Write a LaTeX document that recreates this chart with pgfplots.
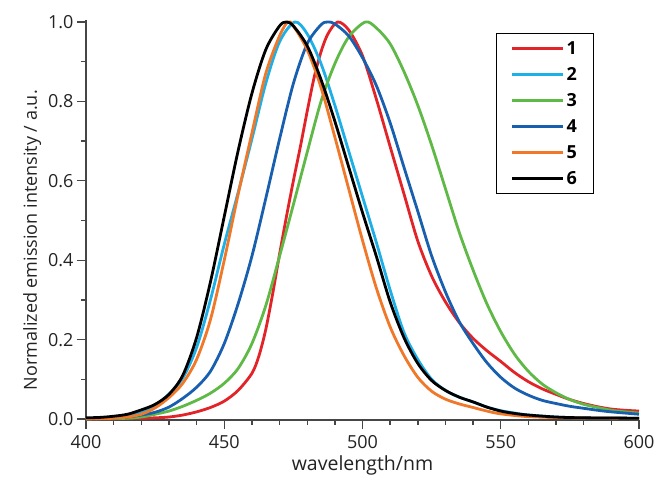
\documentclass[border=0pt]{standalone}
\usepackage{fontspec}
\setmainfont{Open Sans}
\usepackage{pgfplots}
\pgfplotsset{compat=1.18}
\definecolor{c1}{RGB}{226,35,40}
\definecolor{c2}{RGB}{30,175,230}
\definecolor{c3}{RGB}{95,185,70}
\definecolor{c4}{RGB}{25,95,175}
\definecolor{c5}{RGB}{240,120,40}
\definecolor{c6}{RGB}{0,0,0}
\definecolor{axgray}{RGB}{70,70,70}
\definecolor{txtgray}{RGB}{35,35,35}
\begin{document}
\begin{tikzpicture}
\begin{axis}[
  width=553pt, height=400.2pt, scale only axis,
  xmin=400, xmax=600, ymin=-0.003, ymax=1.005,
  axis lines=left,
  axis line style={-, line width=1.6pt, draw=axgray},
  xtick={400,450,500,550,600}, ytick={0,0.2,0.4,0.6,0.8,1.0},
  minor x tick num=4, minor y tick num=1,
  tick align=outside,
  major tick length=9pt, minor tick length=5pt,
  every tick/.style={line width=1.4pt, draw=axgray},
  y tick label style={/pgf/number format/.cd, fixed, fixed zerofill, precision=1, /tikz/.cd},
  x tick label style={/pgf/number format/.cd, 1000 sep={}, /tikz/.cd, yshift=-3pt},
  /pgf/number format/assume math mode=true,
  tick label style={font=\fontsize{18}{21}\selectfont, text=txtgray},
  xlabel={wavelength/nm},
  ylabel={Normalized emission intensity / a.u.},
  xlabel style={font=\fontsize{19.5}{22}\selectfont, text=txtgray, yshift=0pt},
  ylabel style={font=\fontsize{18}{21}\selectfont, text=txtgray, at={(ticklabel cs:0.45)}},
  legend cell align=left,
  legend style={at={(0.9186,0.9675)}, anchor=north east, draw=black, line width=1.2pt,
    font=\bfseries\fontsize{18}{21}\selectfont, inner xsep=14.5pt, inner ysep=6pt,
    row sep=7.5pt},
  legend image code/.code={\draw[#1, line width=2.8pt] (0pt,0pt) -- (51pt,0pt);},
  every axis plot/.append style={line width=2.8pt, smooth},
]
% 1 red
\addplot[c1] coordinates {
(400,0.0)(410,0.001)(420,0.002)(425,0.003)(430,0.005)(435,0.01)(440,0.018)(445,0.029)(450,0.045)(455,0.072)(460,0.115)(462.5,0.158)(465,0.225)(467.5,0.315)(470,0.415)(472.5,0.51)(475,0.60)(477.5,0.685)(480,0.775)(482.5,0.86)(485,0.925)(487.5,0.97)(491,1.0)(495,0.98)(500,0.915)(505,0.806)(510,0.686)(515,0.567)(520,0.448)(525,0.36)(530,0.295)(535,0.243)(540,0.203)(545,0.172)(550,0.145)(555,0.117)(560,0.094)(565,0.076)(570,0.062)(575,0.049)(580,0.039)(585,0.031)(590,0.025)(595,0.022)(600,0.02)};
\addlegendentry{1}
% 2 cyan
\addplot[c2] coordinates {
(400,0.001)(405,0.002)(410,0.003)(415,0.006)(420,0.016)(425,0.034)(430,0.063)(435,0.103)(440,0.18)(445,0.30)(450,0.44)(455,0.57)(460,0.705)(465,0.845)(470,0.95)(475.5,1.0)(480,0.97)(485,0.895)(490,0.79)(495,0.675)(500,0.56)(505,0.445)(510,0.325)(515,0.218)(520,0.15)(525,0.10)(530,0.072)(535,0.055)(540,0.043)(545,0.03)(550,0.021)(555,0.015)(560,0.01)(570,0.005)(580,0.003)(600,0.002)};
\addlegendentry{2}
% 3 green
\addplot[c3] coordinates {
(400,0.0)(405,0.001)(410,0.001)(415,0.002)(420,0.005)(425,0.012)(430,0.02)(435,0.032)(440,0.047)(445,0.065)(450,0.09)(455,0.127)(460,0.19)(465,0.285)(470,0.41)(475,0.54)(480,0.672)(485,0.80)(490,0.895)(495,0.962)(501,1.0)(505,0.985)(510,0.945)(515,0.875)(520,0.79)(525,0.69)(530,0.58)(535,0.47)(540,0.375)(545,0.29)(550,0.22)(555,0.163)(560,0.12)(565,0.088)(570,0.066)(575,0.049)(580,0.037)(585,0.029)(590,0.022)(595,0.018)(600,0.015)};
\addlegendentry{3}
% 4 blue
\addplot[c4] coordinates {
(400,0.001)(405,0.001)(410,0.002)(415,0.005)(420,0.01)(425,0.017)(430,0.03)(435,0.052)(440,0.08)(445,0.12)(450,0.19)(455,0.29)(460,0.41)(465,0.555)(470,0.705)(475,0.845)(480,0.945)(485,0.993)(487.5,1.0)(490,0.995)(495,0.965)(500,0.91)(505,0.84)(510,0.746)(515,0.634)(520,0.523)(525,0.411)(530,0.32)(535,0.245)(540,0.19)(545,0.142)(550,0.105)(555,0.078)(560,0.06)(565,0.047)(570,0.039)(575,0.032)(580,0.027)(585,0.022)(590,0.018)(600,0.012)};
\addlegendentry{4}
% 5 orange
\addplot[c5] coordinates {
(400,0.001)(405,0.001)(410,0.002)(415,0.005)(420,0.012)(425,0.028)(430,0.054)(435,0.09)(440,0.15)(445,0.25)(450,0.40)(455,0.565)(460,0.72)(465,0.87)(470,0.965)(473,1.0)(475,0.99)(480,0.93)(485,0.835)(490,0.71)(495,0.58)(500,0.45)(505,0.33)(510,0.232)(515,0.16)(520,0.105)(525,0.07)(530,0.05)(535,0.038)(540,0.029)(545,0.02)(550,0.013)(560,0.006)(575,0.003)(600,0.002)};
\addlegendentry{5}
% 6 black
\addplot[c6] coordinates {
(400,0.003)(405,0.004)(410,0.007)(415,0.012)(420,0.023)(425,0.037)(430,0.062)(435,0.11)(440,0.205)(445,0.345)(450,0.51)(455,0.675)(460,0.82)(465,0.93)(470,0.99)(472.5,1.0)(475,0.99)(480,0.94)(485,0.855)(490,0.75)(495,0.635)(500,0.52)(505,0.41)(510,0.295)(515,0.205)(520,0.14)(525,0.097)(530,0.072)(535,0.055)(540,0.043)(545,0.03)(550,0.02)(555,0.014)(560,0.01)(570,0.005)(580,0.003)(600,0.002)};
\addlegendentry{6}
\end{axis}
\pgfresetboundingbox
\path ([xshift=-86pt,yshift=-59pt]current axis.south west) rectangle ([xshift=16pt,yshift=20pt]current axis.north east);
\end{tikzpicture}
\end{document}
